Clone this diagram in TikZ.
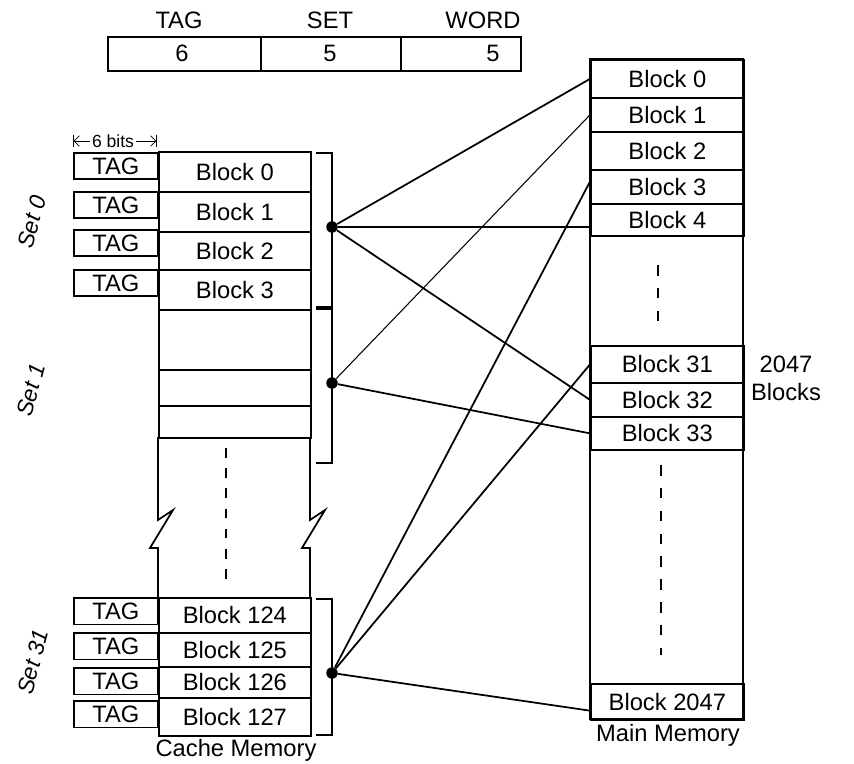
\documentclass[tikz,border=0pt]{standalone}
\usepackage{fontspec}
\setmainfont{Liberation Sans}
\usetikzlibrary{arrows.meta}
\tikzset{
  blk/.style={
    draw,
    shape = rectangle,
    anchor = north west,
    inner sep = 0pt,
    minimum width = 3.04cm,
    line width = 1pt
  },
  mblk/.style={
    blk,
    minimum width = 3.06cm
  },
  tagbox/.style={
    draw,
    shape = rectangle,
    anchor = north west,
    inner sep = 0pt,
    minimum width = 1.68cm,
    minimum height = 0.53cm,
    line width = 1pt
  },
  dot/.style={
    inner sep = 0pt,
    minimum size = 0.23cm,
    shape = circle,
    fill
  },
  wire/.style={
    line width = 1pt
  },
  every picture/.style = {
    font=\fontsize{13.5}{16}\selectfont
  },
  setlabel/.style={
    rotate = 75,
    font = \fontsize{13}{15}\selectfont\itshape
  },
}

\begin{document}
\begin{tikzpicture}[x=0.02cm, y=-0.02cm]
\useasboundingbox (0,0) rectangle (854,763);
% address format
\foreach \name/\x/\w/\t/\tx in {tag/107/3.06/TAG/179, set/260/2.8/SET/330, word/400/2.4/WORD/483}{
  \node[blk, minimum width=\w cm, minimum height=0.68cm] (f\name) at (\x,36) {};
  \node (l\name) at (\tx,20) {\t};
}
\foreach \name/\x/\v in {tag/182/6, set/330/5, word/493/5}
  \node (v\name) at (\x,53) {\v};

% cache memory
\foreach \n/\y/\h in {0/151/40, 1/191/40, 2/231/38, 3/269/40}
  \node[blk, minimum height={0.02cm*\h}] (c\n) at (158,\y) {Block \n};
\foreach \y/\h in {309/60, 369/36, 405/32}
  \node[blk, minimum height={0.02cm*\h}] (e\y) at (158,\y) {};
\foreach \n/\y/\h in {124/597/35, 125/632/34, 126/666/31, 127/697/38}
  \node[blk, minimum height={0.02cm*\h}] (c\n) at (158,\y) {Block \n};
\foreach \k/\y in {0/152, 1/191, 2/229, 3/269, 124/597, 125/632, 126/667, 127/700}
  \node[tagbox] (t\k) at (73,\y) {TAG};
\foreach \x in {158,310}
  \draw[line width=1pt] (\x,437) -- (\x,520) -- ++(15,-10) -- ++(-23,38) -- ++(8,0) -- (\x,597);
\draw[line width=1pt, dash pattern=on 5.5pt off 6pt] (226,448) -- (226,580);
\node (cachel) at (236,750) {Cache Memory};

\node[font=\fontsize{10}{12}\selectfont, fill=white, inner sep=1pt] (bits) at (113,141) {6 bits};
\draw[{Bar[width=7pt]Straight Barb[length=3pt,width=6pt]}-] (73,141) -- (bits.west);
\draw[-{Straight Barb[length=3pt,width=6pt]Bar[width=7pt]}] (bits.east) -- (157,141);

% sets
\draw[line width=1pt] (316,153) -- (332,153) -- (332,308);
\draw[line width=1pt] (332,308) -- (332,463) -- (316,463);
\draw[line width=2.2pt] (316,308) -- (332,308);
\draw[line width=1pt] (316,599) -- (332,599) -- (332,735) -- (316,735);
\node[dot] (s0) at (332,227) {};
\node[dot] (s1) at (332,383) {};
\node[dot] (s31) at (332,673) {};
\node[setlabel] (set0) at (32,222) {Set 0};
\node[setlabel] (set1) at (31,390) {Set 1};
\node[setlabel] (set31) at (33,662) {Set 31};

% main memory
\draw[line width=1pt] (590,59) rectangle (743,719);
\foreach \n/\y/\h in {0/59/38, 1/97/34, 2/131/38, 3/169/34, 4/203/32, 31/345/37, 32/382/34, 33/416/33, 2047/683/36}
  \node[mblk, minimum height={0.02cm*\h}] (m\n) at (590,\y) {Block \n};
\draw[line width=1pt, dash pattern=on 6pt off 7pt] (658,265) -- (658,328);
\draw[line width=1pt, dash pattern=on 6pt off 7pt] (661,465) -- (661,655);
\node (mainl) at (668,735) {Main Memory};
\node[align=center] (count) at (786,378) {2047\\Blocks};

% mapping
\draw[wire] (s0) -- (m0.west);
\draw[wire] (s0) -- (s0 -| m4.west);
\draw[wire] (s0) -- (m32.west);
\draw[line width=0.6pt] (s1) -- (m1.west);
\draw[wire] (s1) -- (m33.west);
\draw[wire] (s31) -- ([yshift=3pt]m3.west);
\draw[wire] (s31) -- (m31.west);
\draw[wire] (s31) -- ([yshift=-5pt]m2047.west);
\end{tikzpicture}
\end{document}
